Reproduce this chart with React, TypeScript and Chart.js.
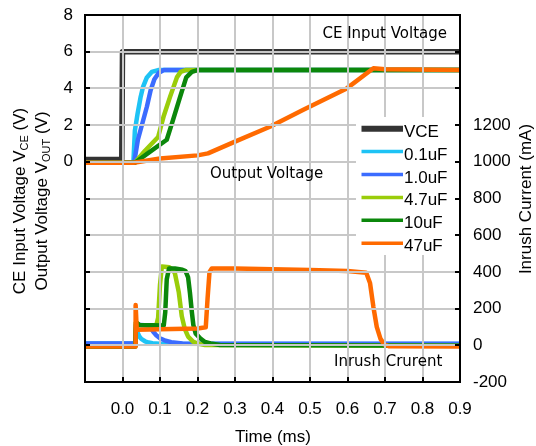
import React, { useEffect, useRef } from 'react';
import { Chart, registerables } from 'chart.js';

Chart.register(...registerables);

// ---- axes ----
const X_MIN = -0.1;
const X_MAX = 0.9;
const X_STEP = 0.1;
const VL_MIN = -12;
const VL_MAX = 8;
const VL_STEP = 2;
const IR_MIN = -200;
const IR_MAX = 1800;
const IR_STEP = 200;
const IR_LABEL_MAX = 1200;

// ---- series ----
const LABELS = ['VCE', '0.1uF', '1.0uF', '4.7uF', '10uF', '47uF'];
const COLORS = ['#333333', '#1ec3f5', '#3b6cff', '#9acd0a', '#0b870b', '#ff6a00'];

// CE input voltage (V)
const T_VCE = [-0.1, -0.002, 0.0, 0.9];
const V_VCE = [0.12, 0.12, 6.0, 6.0];

// Output voltage (V)
const T_V01 = [-0.1, 0.029, 0.033, 0.04, 0.048, 0.055, 0.065, 0.078, 0.095, 0.9];
const V_V01 = [-0.05, -0.05, 1.7, 2.6, 3.5, 4.1, 4.6, 4.9, 5.0, 5.0];
const T_V10 = [-0.1, 0.031, 0.041, 0.053, 0.065, 0.075, 0.085, 0.097, 0.11, 0.9];
const V_V10 = [-0.05, -0.05, 1.2, 2.1, 3.0, 3.9, 4.5, 4.85, 5.0, 5.0];
const T_V47 = [-0.1, 0.033, 0.06, 0.095, 0.11, 0.127, 0.145, 0.155, 0.168, 0.9];
const V_V47 = [-0.05, -0.05, 0.6, 1.35, 2.5, 3.55, 4.6, 4.9, 5.0, 5.0];
const T_V100 = [-0.1, 0.033, 0.07, 0.118, 0.135, 0.153, 0.17, 0.185, 0.2, 0.21, 0.9];
const V_V100 = [-0.05, -0.05, 0.5, 1.2, 2.3, 3.5, 4.6, 4.9, 5.0, 5.0, 5.0];
const T_V470 = [-0.1, 0.03, 0.1, 0.2, 0.228, 0.3, 0.393, 0.481, 0.598, 0.669, 0.7, 0.9];
const V_V470 = [-0.05, -0.05, 0.18, 0.35, 0.46, 1.1, 1.91, 2.82, 4.0, 5.1, 5.05, 5.0];

// Inrush current (mA)
const T_I01 = [-0.1, 0.034, 0.036, 0.04, 0.045, 0.05, 0.06, 0.07, 0.08, 0.1, 0.9];
const I_I01 = [10, 10, 95, 70, 48, 35, 22, 15, 11, 9, 7];
const T_I10 = [-0.1, 0.034, 0.036, 0.07, 0.075, 0.082, 0.09, 0.1, 0.115, 0.13, 0.16, 0.2, 0.9];
const I_I10 = [10, 10, 112, 108, 95, 74, 55, 38, 25, 17, 10, 8, 8];
const T_I47 = [-0.1, 0.034, 0.036, 0.045, 0.09, 0.095, 0.1, 0.105, 0.125, 0.135, 0.14, 0.15, 0.158, 0.166, 0.175, 0.188, 0.2, 0.22, 0.9];
const I_I47 = [-6, -6, 125, 110, 108, 150, 330, 430, 425, 410, 390, 290, 160, 90, 47, 20, 10, 2, -2];
const T_I100 = [-0.1, 0.034, 0.036, 0.045, 0.11, 0.114, 0.118, 0.124, 0.14, 0.16, 0.168, 0.175, 0.18, 0.185, 0.189, 0.195, 0.207, 0.22, 0.235, 0.26, 0.9];
const I_I100 = [-6, -6, 125, 110, 108, 180, 360, 418, 418, 412, 405, 370, 283, 180, 110, 65, 38, 18, 10, 2, -2];
const T_I470 = [-0.1, 0.034, 0.035, 0.038, 0.1, 0.2, 0.222, 0.227, 0.232, 0.238, 0.3, 0.4, 0.5, 0.6, 0.65, 0.66, 0.669, 0.678, 0.688, 0.698, 0.71, 0.9];
const I_I470 = [-6, -6, 220, 85, 88, 92, 98, 260, 400, 418, 418, 415, 410, 405, 395, 340, 210, 100, 35, 5, -5, -6];

const FONT = '"Liberation Sans", Arial, sans-serif';
const NOTE_FONT = '15px "DejaVu Sans", sans-serif';
const GRID_COLOR = 'rgb(200,200,200)';

const pts = (t: number[], v: number[]) => t.map((x, i) => ({ x, y: v[i] }));

type Part = { text: string; size: number; sub?: boolean };

function drawRotated(ctx: CanvasRenderingContext2D, parts: Part[], baseX: number, cy: number) {
  let total = 0;
  const ws = parts.map((p) => {
    ctx.font = `${p.size}px ${FONT}`;
    const w = ctx.measureText(p.text).width;
    total += w;
    return w;
  });
  ctx.save();
  ctx.translate(baseX, cy);
  ctx.rotate(-Math.PI / 2);
  ctx.textAlign = 'left';
  ctx.textBaseline = 'alphabetic';
  let x = -total / 2;
  parts.forEach((p, i) => {
    ctx.font = `${p.size}px ${FONT}`;
    ctx.fillText(p.text, x, p.sub ? 3 : 0);
    x += ws[i];
  });
  ctx.restore();
}

const decor = {
  id: 'decor',
  afterDatasetsDraw(chart: any) {
    const { ctx, chartArea } = chart;
    const { left, right, top, bottom } = chartArea;
    const sl = chart.scales.yL;
    const sr = chart.scales.yR;
    const nx = Math.round((X_MAX - X_MIN) / X_STEP);
    const xAt = (k: number) => Math.round(left + ((right - left) * k) / nx);

    // grid (plain source-over: the only way that showed in this setup)
    ctx.save();
    ctx.globalCompositeOperation = 'source-over';
    ctx.globalAlpha = 1;
    ctx.fillStyle = GRID_COLOR;
    for (let k = 1; k < nx; k++) {
      ctx.fillRect(xAt(k) - 1, top, 2, bottom - top);
    }
    for (let v = VL_MIN + VL_STEP; v < VL_MAX; v += VL_STEP) {
      const y = Math.round(sl.getPixelForValue(v));
      ctx.fillRect(left, y - 1, right - left, 2);
    }
    ctx.restore();

    ctx.save();
    // legend box
    ctx.fillStyle = '#ffffff';
    ctx.fillRect(356, 117, 100, 138);
    const legendSets = chart.data.datasets.filter((d: any) => d.showInLegend);
    legendSets.forEach((d: any, i: number) => {
      const y = 128.7 + 22.9 * i;
      ctx.strokeStyle = d.borderColor;
      ctx.lineWidth = i === 0 ? 6 : 3.5;
      ctx.beginPath();
      ctx.moveTo(361.5, y);
      ctx.lineTo(403, y);
      ctx.stroke();
      ctx.fillStyle = '#000';
      ctx.font = `17px ${FONT}`;
      ctx.textAlign = 'left';
      ctx.textBaseline = 'alphabetic';
      ctx.fillText(d.label, 404, y + 8);
    });

    // frame
    ctx.strokeStyle = '#000';
    ctx.lineWidth = 2;
    ctx.strokeRect(left, top, right - left, bottom - top);

    // inward tick marks
    ctx.fillStyle = '#000';
    for (let v = VL_MIN; v <= VL_MAX; v += VL_STEP) {
      const y = Math.round(sl.getPixelForValue(v));
      ctx.fillRect(left, y - 1, 5, 2);
    }
    for (let v = IR_MIN; v <= IR_MAX; v += IR_STEP) {
      const y = Math.round(sr.getPixelForValue(v));
      ctx.fillRect(right - 5, y - 1, 5, 2);
    }
    for (let k = 0; k <= nx; k++) {
      ctx.fillRect(xAt(k) - 1, bottom - 5, 2, 5);
    }

    // annotations
    ctx.fillStyle = '#000';
    ctx.font = NOTE_FONT;
    ctx.textBaseline = 'alphabetic';
    ctx.textAlign = 'right';
    ctx.fillText('CE Input Voltage', 447, 38);
    ctx.textAlign = 'left';
    ctx.fillText('Output Voltage', 210, 178);
    ctx.fillText('Inrush Crurent', 334, 365.5);

    // axis titles
    drawRotated(ctx, [
      { text: 'CE Input Voltage V', size: 17 },
      { text: 'CE', size: 11, sub: true },
      { text: ' (V)', size: 17 },
    ], 25, 201);
    drawRotated(ctx, [
      { text: 'Output Voltage V', size: 17 },
      { text: 'OUT', size: 11, sub: true },
      { text: ' (V)', size: 17 },
    ], 46.5, 201);
    drawRotated(ctx, [{ text: 'Inrush Current (mA)', size: 17 }], 530.5, 199);
    ctx.font = `17px ${FONT}`;
    ctx.textAlign = 'center';
    ctx.fillText('Time (ms)', 273, 442);

    ctx.restore();
  },
};

export default function App() {
  const ref = useRef<HTMLCanvasElement | null>(null);

  useEffect(() => {
    if (!ref.current) return;
    const mk = (label: string, color: string, t: number[], v: number[], axis: string, order: number, width: number, legend: boolean) => ({
      label,
      data: pts(t, v),
      borderColor: color,
      backgroundColor: color,
      borderWidth: width,
      pointRadius: 0,
      tension: 0,
      fill: false,
      yAxisID: axis,
      order,
      showInLegend: legend,
      borderJoinStyle: 'round',
      borderCapStyle: 'butt',
    });
    const datasets: any[] = [
      mk(LABELS[0], COLORS[0], T_VCE, V_VCE, 'yL', 10, 5.5, true),
      mk(LABELS[1], COLORS[1], T_V01, V_V01, 'yL', 9, 4.5, true),
      mk(LABELS[2], COLORS[2], T_V10, V_V10, 'yL', 8, 4.5, true),
      mk(LABELS[3], COLORS[3], T_V47, V_V47, 'yL', 7, 4.5, true),
      mk(LABELS[4], COLORS[4], T_V100, V_V100, 'yL', 6, 4.5, true),
      mk(LABELS[5], COLORS[5], T_V470, V_V470, 'yL', 1, 4.5, true),
      mk(LABELS[1], COLORS[1], T_I01, I_I01, 'yR', 5, 4.5, false),
      mk(LABELS[2], COLORS[2], T_I10, I_I10, 'yR', 4, 4.5, false),
      mk(LABELS[3], COLORS[3], T_I47, I_I47, 'yR', 3, 4.5, false),
      mk(LABELS[4], COLORS[4], T_I100, I_I100, 'yR', 2, 4.5, false),
      mk(LABELS[5], COLORS[5], T_I470, I_I470, 'yR', 0, 4.5, false),
    ];

    const chart = new Chart(ref.current, {
      type: 'line',
      data: { datasets },
      plugins: [decor],
      options: {
        animation: false,
        responsive: true,
        maintainAspectRatio: false,
        devicePixelRatio: 1,
        layout: { padding: { top: 15, left: 0, right: 0, bottom: 0 } },
        plugins: { legend: { display: false }, tooltip: { enabled: false }, title: { display: false } },
        scales: {
          x: {
            type: 'linear',
            position: 'bottom',
            min: X_MIN,
            max: X_MAX,
            afterFit: (s: any) => { s.height = 64; s.paddingLeft = 0; s.paddingRight = 0; },
            ticks: {
              stepSize: X_STEP,
              color: '#000',
              font: { family: FONT, size: 17 },
              padding: 17,
              maxRotation: 0,
              autoSkip: false,
              callback: (v: any) => (Number(v) < -0.001 ? '' : Number(v).toFixed(1)),
            },
            grid: { display: false, drawTicks: false },
            border: { display: false },
          },
          yL: {
            type: 'linear',
            position: 'left',
            min: VL_MIN,
            max: VL_MAX,
            afterFit: (s: any) => { s.width = 85; s.paddingTop = 0; s.paddingBottom = 0; },
            ticks: {
              stepSize: VL_STEP,
              color: '#000',
              font: { family: FONT, size: 17 },
              padding: 12,
              autoSkip: false,
              callback: (v: any) => (Number(v) < 0 ? '' : String(v)),
            },
            grid: { display: false, drawTicks: false },
            border: { display: false },
          },
          yR: {
            type: 'linear',
            position: 'right',
            min: IR_MIN,
            max: IR_MAX,
            afterFit: (s: any) => { s.width = 76; s.paddingTop = 0; s.paddingBottom = 0; },
            ticks: {
              stepSize: IR_STEP,
              color: '#000',
              font: { family: FONT, size: 17 },
              padding: 13,
              autoSkip: false,
              callback: (v: any) => (Number(v) > IR_LABEL_MAX ? '' : String(v)),
            },
            grid: { display: false, drawTicks: false },
            border: { display: false },
          },
        },
      } as any,
    });
    return () => chart.destroy();
  }, []);

  return (
    <div style={{ position: 'fixed', left: 0, top: 0, width: 536, height: 446, background: '#fff' }}>
      <canvas ref={ref} />
    </div>
  );
}
